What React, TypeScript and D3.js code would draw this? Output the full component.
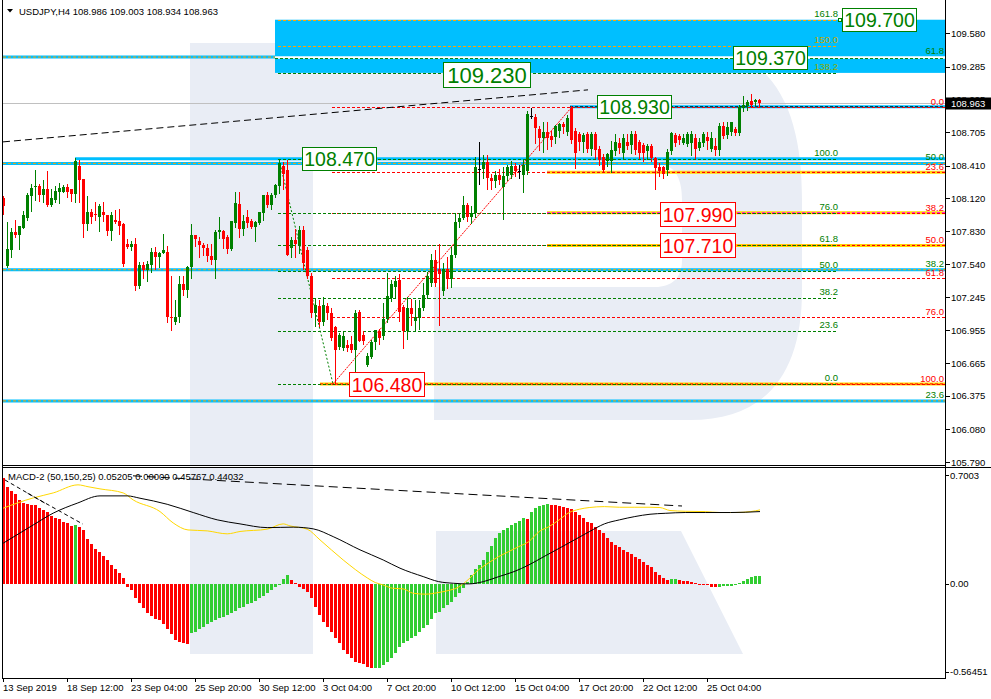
import React from "react";
import * as d3 from "d3";

// ---------- DATA ----------
const opens = [
  108.12,107.52,107.66,107.82,107.80,107.86,107.95,108.14,108.22,108.23,
  108.15,108.20,108.06,108.11,108.18,108.18,108.22,108.20,108.16,108.41,
  108.29,107.89,108.00,107.98,107.96,108.00,107.97,107.83,107.93,107.92,
  107.89,107.72,107.69,107.72,107.35,107.53,107.49,107.53,107.65,107.60,
  107.64,107.65,107.07,107.03,107.07,107.36,107.31,107.51,107.80,107.74,
  107.71,107.68,107.61,107.58,107.82,107.83,107.78,107.67,107.90,108.07,
  107.85,107.96,107.92,107.87,107.90,107.99,108.15,108.06,108.15,108.23,
  108.41,108.37,107.68,107.75,107.71,107.84,107.66,107.43,107.11,107.17,
  107.03,107.17,107.11,106.98,106.81,106.80,106.82,106.83,106.78,107.12,
  106.91,106.65,106.72,106.85,106.95,106.90,107.05,107.24,107.34,107.40,
  107.16,106.95,107.15,107.04,107.06,107.15,107.27,107.37,107.58,107.50,
  107.30,107.50,107.41,107.62,107.91,107.95,108.06,107.96,107.99,108.38,
  108.38,108.44,108.30,108.27,108.33,108.22,108.32,108.33,108.41,108.36,
  108.33,108.36,108.85,108.84,108.73,108.65,108.71,108.67,108.66,108.72,
  108.78,108.71,108.92,108.72,108.69,108.62,108.69,108.56,108.69,108.56,
  108.49,108.45,108.45,108.54,108.61,108.52,108.62,108.59,108.69,108.62,
  108.59,108.54,108.58,108.48,108.40,108.40,108.37,108.54,108.68,108.67,
  108.61,108.60,108.61,108.65,108.57,108.61,108.66,108.56,108.58,108.55,
  108.76,108.68,108.71,108.73,108.70,108.92,108.94,108.98,108.97,108.986,
];
const highs = [
  108.14,107.91,107.86,107.93,107.88,108.01,108.17,108.25,108.37,108.25,
  108.28,108.36,108.20,108.23,108.26,108.24,108.25,108.20,108.48,108.46,
  108.29,108.14,108.03,108.09,108.07,108.09,107.97,108.00,108.02,108.03,
  107.90,107.76,107.74,107.77,107.56,107.56,107.57,107.68,107.69,107.65,
  107.81,107.70,107.43,107.22,107.43,107.43,107.52,107.89,107.80,107.78,
  107.73,107.72,107.72,107.84,107.96,107.84,107.80,107.92,108.18,108.18,
  107.97,108.02,107.94,107.92,108.00,108.15,108.18,108.17,108.25,108.47,
  108.44,108.46,107.78,107.85,107.88,107.88,107.69,107.46,107.24,107.22,
  107.25,107.20,107.15,106.99,106.93,106.95,106.87,106.90,107.13,107.13,
  106.95,106.75,106.87,106.96,106.97,107.20,107.46,107.40,107.43,107.45,
  107.18,107.25,107.23,107.22,107.22,107.37,107.47,107.63,107.66,107.72,
  107.55,107.60,107.69,107.99,107.99,108.14,108.08,108.05,108.49,108.62,
  108.50,108.50,108.34,108.36,108.38,108.40,108.42,108.45,108.43,108.42,
  108.47,108.89,108.92,108.87,108.76,108.80,108.80,108.72,108.77,108.79,
  108.80,108.86,108.94,108.74,108.71,108.70,108.71,108.71,108.71,108.58,
  108.51,108.52,108.63,108.69,108.65,108.69,108.69,108.72,108.72,108.64,
  108.61,108.60,108.60,108.49,108.43,108.41,108.56,108.71,108.70,108.69,
  108.69,108.71,108.72,108.69,108.65,108.71,108.71,108.71,108.65,108.79,
  108.80,108.80,108.80,108.75,108.95,109.03,108.99,109.04,109.00,109.003,
];
const lows = [
  107.98,107.51,107.60,107.78,107.67,107.86,107.93,108.01,108.11,108.10,
  108.09,108.05,108.05,108.09,108.08,108.18,108.13,108.10,108.09,108.09,
  107.78,107.84,107.90,107.93,107.83,107.92,107.80,107.75,107.90,107.81,
  107.52,107.68,107.66,107.31,107.33,107.42,107.39,107.47,107.50,107.51,
  107.64,107.03,106.96,107.01,107.03,107.27,107.25,107.42,107.70,107.60,
  107.62,107.57,107.54,107.42,107.77,107.68,107.64,107.66,107.87,107.78,
  107.80,107.87,107.86,107.74,107.89,107.93,108.04,108.03,108.13,108.17,
  108.20,107.62,107.60,107.60,107.64,107.50,107.42,107.07,106.99,106.99,
  107.00,107.05,106.87,106.48,106.79,106.78,106.77,106.76,106.55,106.86,
  106.83,106.64,106.71,106.79,106.83,106.88,107.03,107.21,107.25,107.04,
  106.80,106.88,107.00,106.95,106.97,107.13,107.24,107.35,107.35,107.00,
  107.27,107.33,107.34,107.60,107.87,107.94,107.92,107.90,107.96,108.25,
  108.30,108.20,108.20,108.22,108.25,107.94,108.28,108.30,108.32,108.30,
  108.18,108.34,108.83,108.61,108.55,108.53,108.56,108.58,108.61,108.66,
  108.70,108.68,108.61,108.39,108.55,108.53,108.53,108.50,108.48,108.42,
  108.35,108.41,108.35,108.50,108.52,108.47,108.56,108.52,108.51,108.48,
  108.45,108.47,108.45,108.20,108.32,108.30,108.33,108.51,108.58,108.60,
  108.60,108.58,108.50,108.48,108.55,108.58,108.56,108.54,108.50,108.50,
  108.65,108.65,108.68,108.68,108.68,108.89,108.90,108.93,108.95,108.934,
];
const closes = [
  108.05,107.67,107.82,107.80,107.88,107.97,108.15,108.21,108.23,108.15,
  108.20,108.06,108.12,108.19,108.21,108.22,108.18,108.16,108.45,108.28,
  107.89,108.00,107.96,107.97,108.05,107.97,107.83,107.97,107.91,107.88,
  107.54,107.69,107.72,107.35,107.53,107.49,107.54,107.65,107.60,107.64,
  107.66,107.07,107.06,107.07,107.36,107.31,107.51,107.80,107.76,107.71,
  107.68,107.61,107.58,107.82,107.84,107.76,107.67,107.92,108.08,107.85,
  107.92,107.90,107.87,107.91,108.00,108.15,108.06,108.15,108.24,108.43,
  108.34,107.62,107.75,107.72,107.84,107.55,107.43,107.11,107.18,107.03,
  107.18,107.11,106.89,106.78,106.91,106.90,106.80,106.78,107.11,106.86,
  106.86,106.73,106.85,106.96,106.89,107.05,107.26,107.36,107.39,107.12,
  106.95,107.15,107.10,107.07,107.15,107.27,107.43,107.58,107.37,107.45,
  107.50,107.41,107.62,107.91,107.95,108.06,107.96,107.99,108.40,108.38,
  108.44,108.30,108.27,108.33,108.28,108.32,108.40,108.41,108.36,108.36,
  108.42,108.87,108.85,108.74,108.65,108.71,108.65,108.64,108.76,108.78,
  108.75,108.83,108.64,108.52,108.62,108.68,108.56,108.69,108.55,108.46,
  108.37,108.51,108.55,108.62,108.57,108.65,108.58,108.69,108.55,108.52,
  108.52,108.58,108.48,108.39,108.36,108.34,108.53,108.70,108.61,108.64,
  108.65,108.69,108.69,108.56,108.62,108.69,108.63,108.65,108.55,108.76,
  108.67,108.75,108.80,108.70,108.93,108.95,108.97,108.95,108.99,108.963,
];

const macdHist = [
  0.680,0.626,0.598,0.579,0.540,0.523,0.514,0.508,0.507,0.491,
  0.476,0.461,0.439,0.422,0.416,0.401,0.390,0.375,0.377,0.368,
  0.347,0.289,0.255,0.223,0.208,0.180,0.154,0.124,0.098,0.073,
  0.040,-0.017,-0.039,-0.092,-0.124,-0.152,-0.184,-0.206,-0.225,-0.232,
  -0.257,-0.292,-0.324,-0.360,-0.371,-0.382,-0.384,-0.317,-0.307,-0.292,
  -0.274,-0.257,-0.242,-0.232,-0.221,-0.210,-0.199,-0.189,-0.174,-0.156,
  -0.146,-0.131,-0.120,-0.109,-0.092,-0.077,-0.056,-0.039,-0.017,-0.006,
  0.032,0.058,0.026,0.004,-0.017,-0.034,-0.049,-0.092,-0.150,-0.199,
  -0.242,-0.274,-0.307,-0.349,-0.382,-0.424,-0.450,-0.478,-0.499,-0.510,
  -0.517,-0.532,-0.542,-0.540,-0.538,-0.521,-0.504,-0.474,-0.446,-0.403,
  -0.377,-0.364,-0.349,-0.332,-0.307,-0.285,-0.264,-0.225,-0.189,-0.178,
  -0.156,-0.135,-0.114,-0.086,-0.060,-0.028,0.015,0.058,0.094,0.122,
  0.154,0.208,0.244,0.294,0.326,0.347,0.358,0.379,0.394,0.407,
  0.422,0.415,0.465,0.487,0.502,0.508,0.514,0.510,0.508,0.502,
  0.497,0.487,0.480,0.465,0.444,0.422,0.401,0.390,0.369,0.347,
  0.326,0.294,0.272,0.251,0.236,0.219,0.208,0.193,0.176,0.159,
  0.144,0.122,0.107,0.079,0.058,0.036,0.026,0.030,0.032,0.026,
  0.021,0.019,0.013,0.004,0.000,-0.006,-0.009,-0.017,-0.021,-0.017,
  -0.016,-0.015,-0.013,-0.006,0.009,0.021,0.030,0.043,0.051,0.052,
];

// [bar index, value]
const macdYellow: [number, number][] = [
  [-0.2,0.487],[7.3,0.553],[12.3,0.585],[18.5,0.637],[21,0.625],[24,0.611],[29.8,0.585],
  [32.3,0.540],[39,0.465],[42.3,0.392],[46,0.347],[50.8,0.341],[55.8,0.322],[59,0.337],
  [65.8,0.352],[69.8,0.386],[71.5,0.373],[75.8,0.352],[79,0.283],[84.8,0.154],[90.8,0.039],
  [92.8,0.009],[94.7,-0.006],[97.2,-0.028],[99.8,-0.032],[102.3,-0.060],[105.4,-0.066],
  [108.5,-0.056],[111,-0.043],[113.6,-0.021],[115.5,0.015],[118.6,0.090],[121,0.133],
  [123.7,0.176],[126.2,0.208],[128.7,0.240],[131.2,0.272],[133.8,0.337],[136.3,0.369],
  [138.8,0.412],[141.3,0.459],[143.8,0.480],[146.3,0.491],[150.1,0.497],[153.9,0.493],
  [157.7,0.493],[161.5,0.493],[164,0.491],[166.5,0.472],[170.3,0.467],[175.3,0.465],
  [179,0.459],[182.9,0.459],[186.7,0.465],[189,0.476],
];
const macdBlack: [number, number][] = [
  [-0.2,0.262],[7.3,0.379],[12.3,0.455],[18.3,0.519],[24,0.566],[30.8,0.566],[34,0.551],
  [40.8,0.512],[47.3,0.459],[53.3,0.412],[59,0.386],[65.8,0.362],[72.3,0.365],[77.3,0.354],
  [82.3,0.304],[89,0.219],[94.8,0.154],[99,0.101],[104.8,0.047],[108.6,0.015],[112.4,0.004],
  [116.1,0.0],[119.9,0.015],[123.7,0.047],[127.5,0.079],[131.2,0.122],[135,0.176],
  [138.8,0.229],[142.6,0.283],[146.4,0.337],[150.1,0.386],[153.9,0.412],[157.7,0.433],
  [161.5,0.448],[165.3,0.454],[170.3,0.459],[175.3,0.459],[181.6,0.459],[189,0.465],
];

const dateLabels = [
  "13 Sep 2019","18 Sep 12:00","23 Sep 04:00","25 Sep 20:00","30 Sep 12:00","3 Oct 04:00",
  "7 Oct 20:00","10 Oct 12:00","15 Oct 04:00","17 Oct 20:00","22 Oct 12:00","25 Oct 04:00",
];
const dateStep = 16;
const priceTicks = [109.580,109.285,108.995,108.705,108.410,108.120,107.830,107.540,107.245,106.955,106.665,106.375,106.080,105.790];
const macdTicks = [0.7003, 0.0, -0.56451];
const macdTickLabels = ["0.7003", "0.00", "-0.56451"];

const symbolTitle = "USDJPY,H4  108.986 109.003 108.934 108.963";
const macdTitle = "MACD-2 (50,150,25) 0.05205 0.00000 0.45767 0.44032";
const lastPrice = 108.963;

// Fibonacci tools
const greenFibLevels = [0, 23.6, 38.2, 50, 61.8, 76, 100, 138.2, 150, 161.8];
const greenFibLow = 106.48, greenFibHigh = 108.47;
const greenFibBars = [68.5, 208.5];
const redFibLevels = [0, 23.6, 38.2, 50, 61.8, 76, 100];
const redFibHigh = 108.93, redFibLow = 106.48;
const redFibStartBar = 82;
const longFibLabels = ["61.8", "50.0", "38.2", "23.6"];
const longFibPrices = [109.37, 108.43, 107.49, 106.33];

const blueZone = { top: 109.70, bottom: 109.23, fromBar: 67.75 };
const yellowPrices = [108.352, 107.994, 107.705, 106.48];
const yellowFromBars = [135.75, 135.75, 135.75, 79];
const cyanPartialPrices = [108.47, 108.93];
const cyanPartialFromBars = [17.75, 141.5];

const trendMain: [number, number][] = [[-0.25, 108.62], [146, 109.08]];
const legDown: [number, number][] = [[69, 108.43], [82.25, 106.48]];
const legUp: [number, number][] = [[82.25, 106.48], [142, 108.93]];
const macdTrend: [number, number][] = [[32.25, 0.695], [169.5, 0.501]];
const macdTrendA: [number, number][] = [[0.2, 0.669], [10.25, 0.519]];
const macdTrendB: [number, number][] = [[5.9, 0.583], [19.75, 0.384]];

const greenBoxTexts = ["109.700", "109.370", "109.230", "108.930", "108.470"];
const greenBoxPrices = [109.70, 109.37, 109.23, 108.93, 108.47];
const greenBoxBars = [209.5, 182.25, 109.75, 148.25, 74.5];
const redBoxTexts = ["107.990", "107.710", "106.480"];
const redBoxPrices = [107.99, 107.71, 106.48];
const redBoxBars = [164, 164, 86.25];

// ---------- LAYOUT ----------
const W = 991, H = 699;
const LEFT = 3, RIGHT = 946;
const MAIN_BOTTOM = 465;
const MACD_TOP = 467.5, MACD_BOTTOM = 678;
const FONT = "'Liberation Sans', Arial, sans-serif";

const GREEN = "#008000";
const RED = "#FF0000";
const CYAN = "#00BFFF";
const ORANGE = "#FFA500";
const GOLD = "#FFD700";

const WATERMARK =
  "M190,43 H680 C775,43 802,110 802,200 V290 C802,375 765,420 690,420 H434 V287 H655 " +
  "C672,287 682,278 682,260 V200 C682,180 676,165 660,165 H313 V654 H190 Z " +
  "M436,531 H681 L743,654 H436 Z";

export default function App() {
  const x = d3.scaleLinear().domain([0, 235]).range([4, 944]);
  const y = d3.scaleLinear().domain([105.79, 109.58]).range([462, 33.3]);
  const ym = d3.scaleLinear().domain([-0.56451, 0.7003]).range([671.7, 475]);

  const lineGen = (sy: (v: number) => number) =>
    d3.line<[number, number]>().x((d) => x(d[0])).y((d) => sy(d[1])).curve(d3.curveMonotoneX);
  const straight = (sy: (v: number) => number) =>
    d3.line<[number, number]>().x((d) => x(d[0])).y((d) => sy(d[1]));

  const fmt3 = d3.format(".3f");
  const hline = (yy: number, x1: number, x2: number, stroke: string, w: number, dash?: string, key?: string) => (
    <line key={key} x1={x1} x2={x2} y1={yy} y2={yy} stroke={stroke} strokeWidth={w} strokeDasharray={dash} />
  );

  const txt = (s: string, tx: number, ty: number, fill: string, size: number, anchor = "start", key?: string) => (
    <text key={key} x={tx} y={ty} fill={fill} fontSize={size} fontFamily={FONT} textAnchor={anchor}>
      {s}
    </text>
  );

  const greenFibPrice = (r: number) => greenFibLow + (r / 100) * (greenFibHigh - greenFibLow);
  const redFibPrice = (r: number) => redFibHigh - (r / 100) * (redFibHigh - redFibLow);

  const boxH = 23;

  return (
    <div style={{ position: "absolute", left: 0, top: 0, width: W, height: H, background: "#fff" }}>
      <svg width={W} height={H} style={{ display: "block" }}>
        <defs>
          <clipPath id="mainClip">
            <rect x={LEFT} y={0} width={RIGHT - LEFT} height={MAIN_BOTTOM} />
          </clipPath>
          <clipPath id="macdClip">
            <rect x={LEFT} y={MACD_TOP} width={RIGHT - LEFT} height={MACD_BOTTOM - MACD_TOP} />
          </clipPath>
        </defs>
        <rect x={0} y={0} width={W} height={H} fill="#fff" />
        {/* watermark */}
        <g clipPath="url(#mainClip)">
          <path d={WATERMARK} fill="#E9EDF5" />
        </g>
        <g clipPath="url(#macdClip)">
          <path d={WATERMARK} fill="#E9EDF5" />
        </g>

        {/* ---------- MAIN PANEL ---------- */}
        <g clipPath="url(#mainClip)">
          {longFibPrices.map((p, i) => (
            <g key={"lf" + i}>
              {hline(y(p), LEFT, RIGHT, CYAN, 3)}
              {hline(y(p), LEFT, RIGHT, ORANGE, 1, "3,2")}
            </g>
          ))}
          <rect
            x={x(blueZone.fromBar)}
            y={y(blueZone.top)}
            width={RIGHT - x(blueZone.fromBar)}
            height={y(blueZone.bottom) - y(blueZone.top)}
            fill={CYAN}
          />
          {hline(y(longFibPrices[0]) + 0.5, x(blueZone.fromBar), RIGHT, "#ffffff", 2.5)}
          {hline(y(longFibPrices[0]) + 1.5, x(blueZone.fromBar), RIGHT, GREEN, 1, "3,2")}

          {hline(Math.round(y(lastPrice)) + 0.5, LEFT, RIGHT, "#C0C0C0", 1)}

          {yellowPrices.map((p, i) => (
            <g key={"yl" + i}>
              {hline(y(p), x(yellowFromBars[i]), RIGHT, GOLD, 3)}
              {hline(y(p), x(yellowFromBars[i]), RIGHT, i < 3 ? "#FF00FF" : RED, 1, "3,2")}
            </g>
          ))}

          {cyanPartialPrices.map((p, i) => (
            <g key={"cp" + i}>{hline(y(p), x(cyanPartialFromBars[i]), RIGHT, CYAN, 3)}</g>
          ))}
          {hline(y(108.93), x(cyanPartialFromBars[1]), RIGHT, "#000", 1, "3,2")}

          {redFibLevels.map((r, i) => (
            <g key={"rf" + i}>{hline(Math.round(y(redFibPrice(r))) + 0.5, x(redFibStartBar), RIGHT, RED, 1, "3,2")}</g>
          ))}
          {greenFibLevels.map((r, i) => (
            <g key={"gf" + i}>
              {hline(
                Math.round(y(greenFibPrice(r))) + 0.5,
                x(greenFibBars[0]),
                x(greenFibBars[1]),
                r === 150 || r === 161.8 ? ORANGE : GREEN,
                1,
                "3,2"
              )}
            </g>
          ))}

          <path d={straight(y)(trendMain) || ""} stroke="#000" strokeWidth={1} strokeDasharray="7,4" fill="none" />
          <path d={straight(y)(legDown) || ""} stroke={GREEN} strokeWidth={1} strokeDasharray="2,2" fill="none" />
          <path d={straight(y)(legUp) || ""} stroke={RED} strokeWidth={1} strokeDasharray="2,1" fill="none" />

          <g shapeRendering="crispEdges">
            {opens.map((o, i) => {
              const c = closes[i];
              const cx = Math.round(x(i));
              const color = o === c ? "#000" : c > o ? GREEN : RED;
              const yt = Math.round(y(Math.max(o, c)));
              const yb = Math.round(y(Math.min(o, c)));
              return (
                <g key={"c" + i}>
                  <line x1={cx - 0.5} x2={cx - 0.5} y1={Math.round(y(highs[i]))} y2={Math.round(y(lows[i])) + 1} stroke={color} strokeWidth={1} />
                  <rect x={cx - 2} y={yt} width={3} height={Math.max(1, yb - yt)} fill={color} />
                </g>
              );
            })}
          </g>

          {greenFibLevels.map((r, i) =>
            txt(
              r.toFixed(1),
              x(greenFibBars[1]),
              y(greenFibPrice(r)) - 3,
              r === 150 ? "#C8A800" : r === 138.2 ? "#8AAA00" : GREEN,
              9.5,
              "end",
              "gfl" + i
            )
          )}
          {redFibLevels.map((r, i) => txt(r.toFixed(1), RIGHT - 2, y(redFibPrice(r)) - 2, RED, 9.5, "end", "rfl" + i))}
          {longFibLabels.map((s, i) => txt(s, RIGHT - 2, y(longFibPrices[i]) - 3, GREEN, 9.5, "end", "lfl" + i))}

          {greenBoxTexts.map((s, i) => {
            const wide = s === "109.230";
            const bw = wide ? 87 : 74;
            const bh = wide ? 25 : boxH;
            const bx = Math.round(x(greenBoxBars[i])) + 0.5;
            const by = Math.round(y(greenBoxPrices[i]) - bh / 2) + (wide ? 2.5 : 0.5);
            return (
              <g key={"gb" + i}>
                <rect x={bx} y={by} width={bw} height={bh} fill="#fff" stroke={GREEN} strokeWidth={1} />
                <text x={bx + bw / 2} y={by + (wide ? 20 : 18.5)} fill={GREEN} fontSize={wide ? 22 : 19.5} fontFamily={FONT} textAnchor="middle">
                  {s}
                </text>
              </g>
            );
          })}
          {redBoxTexts.map((s, i) => {
            const bx = Math.round(x(redBoxBars[i])) + 0.5;
            const by = Math.round(y(redBoxPrices[i]) - boxH / 2) + 0.5;
            return (
              <g key={"rb" + i}>
                <rect x={bx} y={by} width={75} height={boxH + 1} fill="#fff" stroke={RED} strokeWidth={1} />
                <text x={bx + 37.5} y={by + 19} fill={RED} fontSize={19.5} fontFamily={FONT} textAnchor="middle">
                  {s}
                </text>
              </g>
            );
          })}
          <rect x={Math.round(x(greenBoxBars[0])) - 3.5} y={Math.round(y(greenBoxPrices[0])) - 1.5} width={3} height={3} fill="#fff" stroke={GREEN} strokeWidth={1} />

          <path d="M7,9 L13,9 L10,12.5 Z" fill="#000" />
          {txt(symbolTitle, 19, 14.5, "#000", 9.5)}
        </g>

        {/* ---------- MACD PANEL ---------- */}
        <g clipPath="url(#macdClip)">
          <g shapeRendering="crispEdges">
            {macdHist.map((v, i) => {
              const cx = Math.round(x(i));
              const up = i > 0 && v > macdHist[i - 1];
              const y0 = Math.round(ym(0));
              const y1 = Math.round(ym(v));
              return (
                <rect
                  key={"h" + i}
                  x={cx - 2}
                  y={Math.min(y0, y1)}
                  width={3}
                  height={Math.max(1, Math.abs(y1 - y0))}
                  fill={up ? "#32CD32" : RED}
                />
              );
            })}
          </g>
          <path d={lineGen(ym)(macdYellow) || ""} stroke={GOLD} strokeWidth={1} fill="none" />
          <path d={lineGen(ym)(macdBlack) || ""} stroke="#000" strokeWidth={1} fill="none" />
          <path d={straight(ym)(macdTrend) || ""} stroke="#000" strokeWidth={1} strokeDasharray="9,5" fill="none" />
          <path d={straight(ym)(macdTrendA) || ""} stroke="#000" strokeWidth={1} strokeDasharray="4,3" fill="none" />
          <path d={straight(ym)(macdTrendB) || ""} stroke="#000" strokeWidth={1} strokeDasharray="4,3" fill="none" />
          {txt(macdTitle, 8, 480, "#000", 9.5)}
        </g>

        {/* ---------- FRAMES ---------- */}
        <g shapeRendering="crispEdges" stroke="#000" strokeWidth={1}>
          <line x1={LEFT - 0.5} x2={LEFT - 0.5} y1={0} y2={MACD_BOTTOM} />
          <line x1={RIGHT - 0.5} x2={RIGHT - 0.5} y1={0} y2={MACD_BOTTOM} />
          <line x1={LEFT - 1} x2={RIGHT} y1={MAIN_BOTTOM + 0.5} y2={MAIN_BOTTOM + 0.5} />
          <line x1={LEFT - 1} x2={W} y1={MACD_TOP} y2={MACD_TOP} />
          <line x1={LEFT - 1} x2={RIGHT} y1={MACD_BOTTOM + 0.5} y2={MACD_BOTTOM + 0.5} />
        </g>

        {priceTicks.map((p, i) => (
          <g key={"pt" + i}>
            <line x1={RIGHT} x2={RIGHT + 4} y1={Math.round(y(p)) + 0.5} y2={Math.round(y(p)) + 0.5} stroke="#000" />
            {txt(fmt3(p), RIGHT + 5, y(p) + 3.5, "#000", 9.5)}
          </g>
        ))}
        <rect x={RIGHT} y={Math.round(y(lastPrice)) - 5.5} width={W - RIGHT} height={12} fill="#000" />
        {txt(fmt3(lastPrice), RIGHT + 5, y(lastPrice) + 3.5, "#fff", 9.5)}

        {macdTicks.map((v, i) => (
          <g key={"mt" + i}>
            <line x1={RIGHT} x2={RIGHT + 3} y1={Math.round(ym(v)) + 0.5} y2={Math.round(ym(v)) + 0.5} stroke="#000" />
            {txt(macdTickLabels[i], RIGHT + 4, ym(v) + 3.5, "#000", 9.5)}
          </g>
        ))}

        {dateLabels.map((s, k) => {
          const tx = Math.round(x(k * dateStep)) - 1;
          return (
            <g key={"d" + k}>
              <line x1={tx + 0.5} x2={tx + 0.5} y1={MACD_BOTTOM} y2={MACD_BOTTOM + 4} stroke="#000" />
              {txt(s, tx, 690.5, "#000", 9.5)}
            </g>
          );
        })}
      </svg>
    </div>
  );
}
